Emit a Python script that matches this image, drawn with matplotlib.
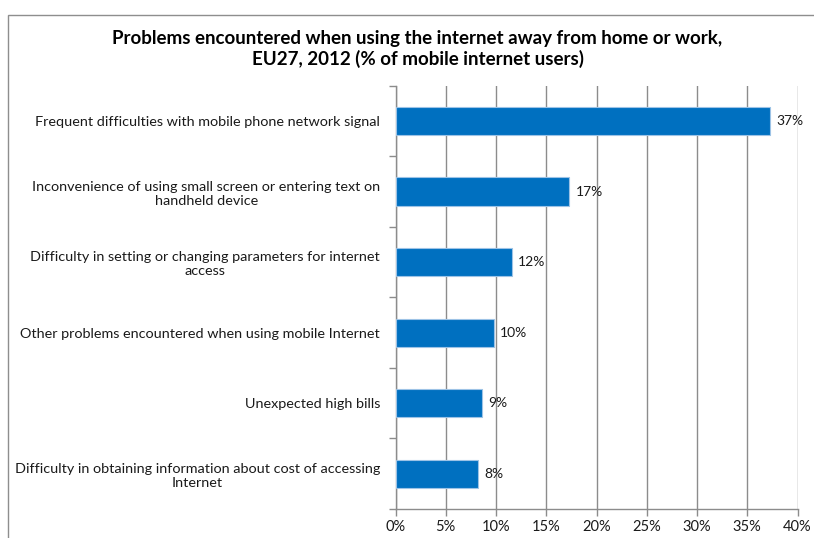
import matplotlib
matplotlib.use("Agg")
import matplotlib.pyplot as plt
from matplotlib.patches import Rectangle
from matplotlib.ticker import MultipleLocator, FuncFormatter

plt.rcParams['font.family'] = ['Lato', 'DejaVu Sans']

title = "Problems encountered when using the internet away from home or work,\nEU27, 2012 (% of mobile internet users)"

categories = [
    "Frequent difficulties with mobile phone network signal",
    "Inconvenience of using small screen or entering text on\nhandheld device",
    "Difficulty in setting or changing parameters for internet\naccess",
    "Other problems encountered when using mobile Internet",
    "Unexpected high bills",
    "Difficulty in obtaining information about cost of accessing\nInternet",
]
values = [37.3, 17.3, 11.6, 9.8, 8.6, 8.2]

bar_color = "#0070C0"
edge_color = "#9DC3E6"
grid_color = "#8C8C8C"

fig = plt.figure(figsize=(8.14, 5.38), dpi=100)

# Outer chart frame
fig.patches.append(Rectangle((8 / 814, -0.05), 1.2, 1 - 15 / 538 + 0.05,
                             transform=fig.transFigure, fill=False,
                             edgecolor="#8E8E8E", linewidth=1.0))

ax = fig.add_axes([395.5 / 814, 1 - 509 / 538, 402 / 814, (509 - 85.75) / 538])

y = list(range(len(categories)))
ax.barh(y, values, height=0.4, color=bar_color, edgecolor=edge_color,
        linewidth=0.8, zorder=3)
for yi, v in zip(y, values):
    ax.text(v + 0.6, yi, f"{v:.0f}%", va="center", ha="left",
            fontsize=10, color="#1A1A1A", zorder=4)

ax.set_ylim(len(categories) - 0.5, -0.5)
ax.set_xlim(0, 40)
ax.xaxis.set_major_locator(MultipleLocator(5))
ax.xaxis.set_major_formatter(FuncFormatter(lambda x, _: f"{x:.0f}%"))

ax.set_yticks([i + 0.5 for i in range(-1, len(categories))])
ax.set_yticklabels([])
ax.set_yticks(y, minor=True)
ax.set_yticklabels(categories, minor=True, multialignment="center")
ax.tick_params(axis="y", which="minor", length=0, pad=11, labelsize=10.4,
               labelcolor="#1A1A1A")
ax.tick_params(axis="y", which="major", length=5, color=grid_color, width=1)
ax.tick_params(axis="x", length=5, color=grid_color, width=1, pad=3,
               labelsize=10.5, labelcolor="#1A1A1A")

ax.grid(axis="x", color=grid_color, linewidth=1.0, zorder=0)
ax.set_axisbelow(True)
for side in ("top", "right"):
    ax.spines[side].set_visible(False)
for side in ("left", "bottom"):
    ax.spines[side].set_color(grid_color)
    ax.spines[side].set_linewidth(1.0)

fig.text(417.5 / 814, 1 - 49 / 538, title, ha="center", va="center",
         fontsize=13.5, fontweight="bold", color="#000000", linespacing=1.25)

fig.savefig("out.png", dpi=100)
